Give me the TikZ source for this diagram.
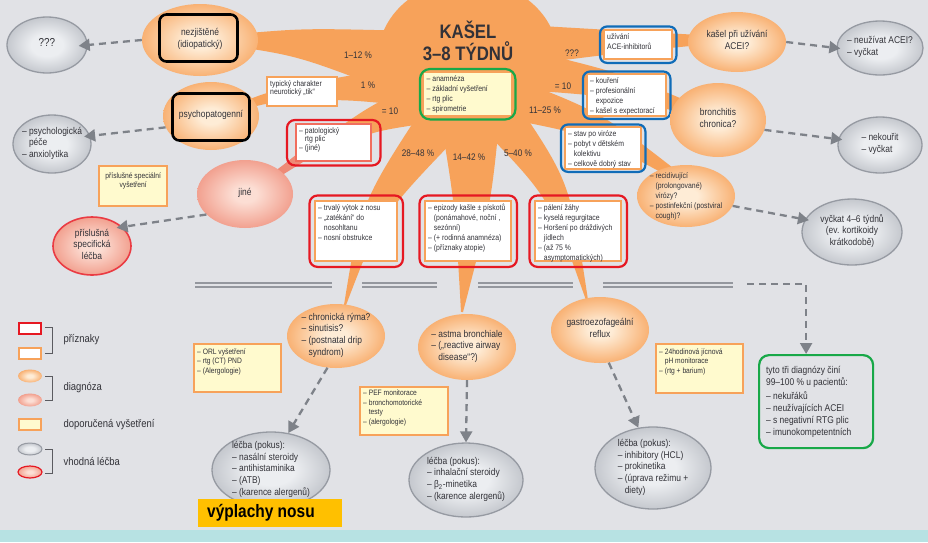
\documentclass[tikz,border=0pt]{standalone}
\usepackage{fontspec}
\setmainfont{Liberation Sans}[FakeStretch=0.86]
\usepackage{xcolor}
\usepackage{tikz}
\usetikzlibrary{shapes.geometric, arrows.meta, positioning, fit, calc}
\definecolor{paper}{RGB}{225,226,230}
\definecolor{stripcyan}{RGB}{183,226,227}
\definecolor{blob}{RGB}{247,162,90}
\definecolor{orlight}{RGB}{254,236,214}
\definecolor{salmon}{RGB}{238,138,118}
\definecolor{roselight}{RGB}{252,222,212}
\definecolor{cloud}{RGB}{168,172,180}
\definecolor{cloudlight}{RGB}{236,238,241}
\definecolor{cloudedge}{RGB}{150,154,162}
\definecolor{paleyellow}{RGB}{255,250,206}
\definecolor{alarmred}{RGB}{230,24,34}
\definecolor{frameblue}{RGB}{16,108,184}
\definecolor{framegreen}{RGB}{24,168,72}
\definecolor{arrowgray}{RGB}{126,130,137}
\definecolor{railgray}{RGB}{148,151,158}
\definecolor{ink}{RGB}{50,50,56}
\definecolor{rinsegold}{RGB}{255,192,0}

\pgfdeclareradialshading{orball}{\pgfpointorigin}{color(0bp)=(orlight); color(6bp)=(orlight); color(30bp)=(blob); color(50bp)=(blob!94!black)}
\pgfdeclareradialshading{roseball}{\pgfpointorigin}{color(0bp)=(roselight); color(6bp)=(roselight); color(32bp)=(salmon); color(50bp)=(salmon!94!black)}
\pgfdeclareradialshading{cloudball}{\pgfpointorigin}{color(0bp)=(cloudlight); color(10bp)=(cloudlight); color(36bp)=(cloud); color(50bp)=(cloud)}

\newcommand{\smalltxt}{\fontsize{8}{10}\selectfont}
\newcommand{\tinytxt}{\fontsize{8}{8.7}\selectfont}
\newcommand{\examtxt}{\fontsize{7.8}{9.5}\selectfont}
\newcommand{\midtxt}{\fontsize{9.8}{11.8}\selectfont}
\newcommand{\ind}{\hphantom{--~}}
\newcommand{\topbox}[3]{\parbox[c][#2][t]{#1}{\raggedright #3}}
\newcommand{\inl}[1]{\smash{\makebox[0pt]{\raisebox{-2pt}{\begin{tabular}{@{}l@{}}#1\end{tabular}}}}}
\newcommand{\inc}[1]{\smash{\makebox[0pt]{\raisebox{-2pt}{\begin{tabular}{@{}c@{}}#1\end{tabular}}}}}
% tapered arm of the central blob: [fill] A, control, B, half widths at A, control, B
\newcommand{\arm}[7][blob]{%
  \fill[#1] ($(#2)!#5!90:(#3)$) .. controls ($(#3)!#6!-90:(#2)$) .. ($(#4)!#7!-90:(#3)$)
    -- ($(#4)!#7!90:(#3)$) .. controls ($(#3)!#6!90:(#2)$) .. ($(#2)!#5!-90:(#3)$) -- cycle;}

\begin{document}
\begin{tikzpicture}[
        x=1pt, y=-1pt,
        every node/.style={text=ink},
        diag/.style={ellipse, shade, shading=orball, inner sep=0pt, font=\midtxt},
        diagrose/.style={diag, shading=roseball},
        cure/.style={ellipse, shade, shading=cloudball, draw=cloudedge, line width=1.3pt, inner sep=0pt, font=\midtxt},
        cureown/.style={ellipse, shade, shading=roseball, draw=alarmred!85, line width=1.6pt, inner sep=0pt, font=\midtxt},
        sympbox/.style={rectangle, fill=white, draw=blob, line width=2.4pt, inner sep=3pt, anchor=north west, font=\smalltxt},
        exambox/.style={sympbox, fill=paleyellow, font=\examtxt},
        redframe/.style={rectangle, draw=alarmred, line width=2.2pt, rounded corners=8pt, inner sep=4.5pt},
        blueframe/.style={rectangle, draw=frameblue, line width=2.2pt, rounded corners=7pt, inner sep=3pt},
        blackframe/.style={rectangle, draw=black, line width=2.6pt, rounded corners=7pt},
        greenframe/.style={rectangle, draw=framegreen, line width=2.2pt, rounded corners=10pt},
        share/.style={font=\fontsize{9.5}{11}\selectfont},
        legtext/.style={anchor=west, font=\fontsize{11}{13}\selectfont},
        bracket/.style={draw=ink!80, line width=0.9pt},
        rail/.style={draw=railgray, line width=1.8pt, double=paper, double distance=1.8pt},
        arrow/.style={-{Triangle[length=11pt, width=12pt]}, draw=arrowgray, line width=2.3pt, dash pattern=on 7pt off 5pt}
    ]

    \useasboundingbox (0,0) rectangle (928,542);
    \fill[paper] (0,0) rectangle (928,542);
    \fill[stripcyan] (0,530) rectangle (928,542);

    % central blob
    \begin{scope}
    \clip (0,0) rectangle (928,530);
    \fill[blob] (468,58) ellipse [x radius=90pt, y radius=78pt];
    \arm{392,60}{300,42}{226,40}{30pt}{14pt}{5pt}
    \arm{400,85}{350,88}{300,92}{20pt}{12pt}{8pt}
    \arm{278,96}{264,99}{248,104}{6pt}{5pt}{4pt}
    \arm{415,105}{370,120}{335,140}{20pt}{12pt}{8pt}
    \arm[salmon]{300,158}{286,168}{268,180}{5pt}{4pt}{3pt}
    \arm{450,110}{370,210}{345,305}{24pt}{12pt}{1pt}
    \arm{470,115}{473,205}{462,312}{30pt}{18pt}{1pt}
    \arm{495,110}{560,190}{587,300}{22pt}{13pt}{1pt}
    \arm{515,100}{600,125}{690,185}{20pt}{12pt}{3pt}
    \arm{525,70}{620,85}{700,112}{20pt}{12pt}{5pt}
    \arm{525,45}{610,42}{700,40}{20pt}{12pt}{5pt}
    \end{scope}

    % separator
    \draw[rail] (195,285) -- (332,285);
    \draw[rail] (362,285) -- (437,285);
    \draw[rail] (478,285) -- (573,285);
    \draw[rail] (603,285) -- (733,285);

    % title and examination
    \node[font=\fontsize{19.5}{22}\selectfont\bfseries, align=center] (title) at (468,41) {KAŠEL\\3--8 TÝDNŮ};
    \node[exambox, line width=1.4pt, font=\smalltxt] (basic) at (423,72) {\topbox{82pt}{37pt}{--~anamnéza\\--~základní vyšetření\\--~rtg plic\\--~spirometrie}};
    \node[greenframe, fit=(basic), inner sep=3pt] (basicG) {};

    \node[share] (pIdiop) at (358,55) {1--12~\%};
    \node[share] (pPsycho) at (368,85) {1~\%};
    \node[share] (pOther) at (390,111) {=~10};
    \node[share] (pNose) at (418,153) {28--48~\%};
    \node[share] (pAsthma) at (469,157) {14--42~\%};
    \node[share] (pReflux) at (518,153) {5--40~\%};
    \node[share] (pVirus) at (545,110) {11--25~\%};
    \node[share] (pBronch) at (563,86) {=~10};
    \node[share] (pAcei) at (572,53) {???};

    % left side
    \node[cure, minimum width=80pt, minimum height=56pt, font=\fontsize{11.5}{13}\selectfont] (unknown) at (47,45) {\inc{???}};
    \node[diag, minimum width=116pt, minimum height=72pt] (idiop) at (200,40) {\inc{nezjištěné\\(idiopatický)}};
    \node[blackframe, minimum width=78pt, minimum height=47pt] (idiopF) at (198.5,38) {};
    \node[diag, minimum width=96pt, minimum height=68pt] (psycho) at (211,116) {\inc{psychopatogenní}};
    \node[blackframe, minimum width=77pt, minimum height=47pt] (psychoF) at (211,117) {};
    \node[cure, minimum width=78pt, minimum height=58pt] (calm) at (52,144) {\inl{--~psychologická\\\ind péče\\--~anxiolytika}};
    \node[sympbox, font=\tinytxt] (neuro) at (266,76) {\topbox{64pt}{23pt}{typický charakter\\neurotický „tik“}};
    \node[sympbox, draw=salmon!80!red, font=\tinytxt] (xray) at (295,123) {\topbox{69pt}{31pt}{--~patologický\\\ind rtg plic\\--~(jiné)}};
    \node[redframe, fit=(xray), inner xsep=8pt, inner ysep=3pt] (xrayR) {};
    \node[diagrose, minimum width=96pt, minimum height=68pt] (other) at (245,194) {\inc{jiné}};
    \node[exambox, font=\examtxt] (special) at (98,165) {\parbox[c][34pt][t]{62pt}{\centering\rule{0pt}{9pt}příslušné speciální\\vyšetření}};
    \node[cureown, minimum width=78pt, minimum height=58pt] (ownCure) at (92,246) {\inc{příslušná\\specifická\\léčba}};

    % right side
    \node[sympbox] (acei) at (603,29) {\topbox{62pt}{23pt}{užívání\\ACE-inhibitorů}};
    \node[blueframe, fit=(acei), inner ysep=2.5pt] (aceiB) {};
    \node[diag, minimum width=98pt, minimum height=60pt] (aceiCough) at (737,42) {\inc{kašel při užívání\\ACEI?}};
    \node[cure, minimum width=86pt, minimum height=54pt] (stopAcei) at (880,48) {\inl{--~neužívat ACEI?\\--~vyčkat}};
    \node[sympbox] (smoke) at (586,73) {\topbox{73pt}{36pt}{--~kouření\\--~profesionální\\\ind expozice\\--~kašel s expectorací}};
    \node[blueframe, fit=(smoke), inner ysep=1.5pt] (smokeB) {};
    \node[diag, minimum width=96pt, minimum height=74pt] (bronch) at (718,120) {\inc{bronchitis\\chronica?}};
    \node[cure, minimum width=84pt, minimum height=56pt] (noSmoke) at (880,145) {\inl{--~nekouřit\\--~vyčkat}};
    \node[sympbox] (virus) at (564,126) {\topbox{70pt}{36pt}{--~stav po viróze\\--~pobyt v dětském\\\ind kolektivu\\--~celkově dobrý stav}};
    \node[blueframe, fit=(virus), inner ysep=1.5pt] (virusB) {};
    \node[diag, minimum width=98pt, minimum height=62pt, font=\smalltxt] (postvir) at (686,196) {\inl{--~recidivující\\\ind (prolongované)\\\ind virózy?\\--~postinfekční (postviral\\\ind cough)?}};
    \node[cure, minimum width=100pt, minimum height=66pt] (wait) at (852,232) {\inc{vyčkat 4--6 týdnů\\(ev. kortikoidy\\krátkodobě)}};

    % symptoms
    \node[sympbox] (nose) at (314,200) {\topbox{76pt}{54pt}{--~trvalý výtok z nosu\\--~„zatékání“ do\\\ind nosohltanu\\--~nosní obstrukce}};
    \node[redframe, fit=(nose)] (noseR) {};
    \node[sympbox] (wheeze) at (424,200) {\topbox{80pt}{54pt}{--~epizody kašle ± pískotů\\\ind (ponámahové, noční ,\\\ind sezónní)\\--~(+ rodinná anamnéza)\\--~(příznaky atopie)}};
    \node[redframe, fit=(wheeze)] (wheezeR) {};
    \node[sympbox] (heartburn) at (534,200) {\topbox{80pt}{54pt}{--~pálení žáhy\\--~kyselá regurgitace\\--~Horšení po dráždivých\\\ind jídlech\\--~(až 75~\%\\\ind asymptomatických)}};
    \node[redframe, fit=(heartburn)] (heartburnR) {};

    % diagnoses below the line
    \node[diag, minimum width=98pt, minimum height=64pt] (rhinitis) at (336,336) {\inl{--~chronická rýma?\\--~sinutisis?\\--~(postnatal drip\\\ind syndrom)}};
    \node[exambox] (ent) at (193,343) {\topbox{81pt}{42pt}{\rule{0pt}{7pt}--~ORL vyšetření\\--~rtg (CT) PND\\--~(Alergologie)}};
    \node[cure, minimum width=118pt, minimum height=76pt] (noseCure) at (271,470) {\inl{léčba (pokus):\\--~nasální steroidy\\--~antihistaminika\\--~(ATB)\\--~(karence alergenů)}};
    \node[fill=rinsegold, anchor=north west, minimum height=28pt, text width=126pt, inner xsep=9pt, align=flush left, font=\fontsize{18}{20}\selectfont\bfseries, text=black] (rinse) at (198,499) {výplachy nosu};

    \node[diag, minimum width=98pt, minimum height=66pt] (asthma) at (467,347) {\inl{--~astma bronchiale\\--~(„reactive airway\\\ind disease“?)}};
    \node[exambox] (pef) at (359,386) {\topbox{82pt}{42pt}{--~PEF monitorace\\--~bronchomotorické\\\ind testy\\--~(alergologie)}};
    \node[cure, minimum width=114pt, minimum height=74pt] (asthmaCure) at (466,480) {\inl{léčba (pokus):\\--~inhalační steroidy\\--~β\textsubscript{2}-minetika\\--~(karence alergenů)}};

    \node[diag, minimum width=98pt, minimum height=66pt] (reflux) at (600,330) {\inc{gastroezofageální\\reflux}};
    \node[exambox] (phmon) at (655,343) {\topbox{81pt}{43pt}{\rule{0pt}{7pt}--~24hodinová jícnová\\\ind pH monitorace\\--~(rtg + barium)}};
    \node[cure, minimum width=116pt, minimum height=82pt] (refluxCure) at (653,468) {\inl{léčba (pokus):\\--~inhibitory (HCL)\\--~prokinetika\\--~(úprava režimu +\\\ind diety)}};

    \node[greenframe, anchor=north west, minimum width=114pt, minimum height=93pt, text width=100pt, inner xsep=7pt, align=flush left, font=\midtxt] (summary) at (758,354) {tyto tři diagnózy činí\\99--100~\% u pacientů:\\[3pt]--~nekuřáků\\--~neužívajících ACEI\\--~s negativní RTG plic\\--~imunokompetentních};

    % dashed arrows
    \draw[arrow, shorten >=-9pt] (idiop.west) -- (unknown.east);
    \draw[arrow, shorten >=-6pt] (psycho.194) -- (calm.12);
    \draw[arrow, shorten >=-6pt] (other.208) -- (ownCure.32);
    \draw[arrow, shorten >=-4pt] (aceiCough.east) -- (stopAcei.west);
    \draw[arrow, shorten >=-4pt] (bronch.-12) -- (noSmoke.172);
    \draw[arrow, shorten >=-4pt] (postvir.-12) -- (wait.165);
    \draw[arrow] (rhinitis.-105) -- (noseCure.65);
    \draw[arrow] (asthma.south) -- (asthmaCure.north);
    \draw[arrow] (reflux.-75) -- (refluxCure.110);
    \coordinate (railEnd) at (747,284);
    \draw[arrow] (railEnd) -| ([xshift=-10pt]summary.north);

    % legend
    \node[rectangle, fill=white, draw=alarmred, line width=2pt, minimum width=22pt, minimum height=11pt] (keyRed) at (30,328) {};
    \node[rectangle, fill=white, draw=blob, line width=2pt, minimum width=22pt, minimum height=11pt] (keyOrange) at (30,353) {};
    \node[ellipse, shade, shading=orball, minimum width=24pt, minimum height=13pt, inner sep=0pt] (keyDiag) at (30,376) {};
    \node[ellipse, shade, shading=roseball, minimum width=24pt, minimum height=13pt, inner sep=0pt] (keyDiagRose) at (30,400) {};
    \node[rectangle, fill=paleyellow, draw=blob, line width=2pt, minimum width=22pt, minimum height=11pt] (keyExam) at (30,424) {};
    \node[ellipse, shade, shading=cloudball, draw=cloudedge, line width=1pt, minimum width=24pt, minimum height=12pt, inner sep=0pt] (keyCure) at (30,449) {};
    \node[ellipse, shade, shading=roseball, draw=alarmred, line width=1.2pt, minimum width=24pt, minimum height=12pt, inner sep=0pt] (keyCureOwn) at (30,472) {};
    \draw[bracket] (45,327) -| (52,353) -- (45,353);
    \draw[bracket] (45,376) -| (52,400) -- (45,400);
    \draw[bracket] (45,449) -| (52,473) -- (45,473);
    \node[legtext] (keySymptoms) at (60,340) {příznaky};
    \node[legtext] (keyDiagnosis) at (60,388) {diagnóza};
    \node[legtext] (keyExamText) at (60,425) {doporučená vyšetření};
    \node[legtext] (keyCureText) at (60,461) {vhodná léčba};

\end{tikzpicture}
\end{document}
